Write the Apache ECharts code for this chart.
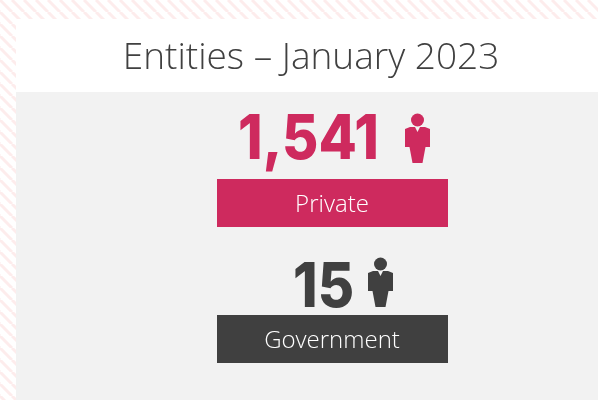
<!DOCTYPE html>
<html>
<head>
<meta charset="utf-8">
<title>Entities</title>
<script src="https://cdn.jsdelivr.net/npm/echarts@6/dist/echarts.min.js"></script>
<style>
html, body { margin: 0; padding: 0; background: #fff; }
#main { width: 598px; height: 400px; }
</style>
</head>
<body>
<div id="main"></div>
<script>
var titleText = 'Entities – January 2023';
var categories = ['Private', 'Government'];
var values = [1541, 15];
var colors = ['#CE2A5E', '#404040'];

// layout of each block (number line, icon, banner)
var bannerTop = [179, 315];
var numberCenter = [308.5, 323.5];
var numberMiddle = [140, 288];
var iconX = [417.5, 380.5];
var iconY = [114, 258];

var dom = document.getElementById('main');
var myChart = echarts.init(dom, null, { renderer: 'canvas' });

// diagonal stripes behind the panel
var tile = document.createElement('canvas');
tile.width = 12;
tile.height = 12;
var ctx = tile.getContext('2d');
ctx.fillStyle = '#ffffff';
ctx.fillRect(0, 0, 12, 12);
ctx.strokeStyle = '#fdecec';
ctx.lineWidth = 3;
for (var k = -12; k <= 12; k += 12) {
	ctx.beginPath();
	ctx.moveTo(k, 0);
	ctx.lineTo(k + 12, 12);
	ctx.stroke();
}

var person = [[-7.5, 13], [-2.5, 13], [0, 18], [2.5, 13], [7.5, 13], [12.5, 15], [12.5, 33], [8, 33], [5, 49], [-5, 49], [-8, 33], [-12.5, 33], [-12.5, 15]];

var elements = [
	{ type: 'rect', shape: { x: 0, y: 0, width: 598, height: 400 }, style: { fill: { image: tile, repeat: 'repeat' } } },
	{ type: 'rect', shape: { x: 16, y: 19, width: 582, height: 73 }, style: { fill: '#ffffff' } },
	{ type: 'rect', shape: { x: 16, y: 92, width: 582, height: 308 }, style: { fill: '#F2F2F2' } },
	{
		type: 'text', x: 311, y: 58,
		style: { text: titleText, fill: '#404040', font: '300 37px "Open Sans"', textAlign: 'center', textVerticalAlign: 'middle' }
	}
];

categories.forEach(function (name, i) {
	elements.push({
		type: 'rect',
		shape: { x: 217, y: bannerTop[i], width: 231, height: 48 },
		style: { fill: colors[i] }
	});
	elements.push({
		type: 'text', x: 332, y: bannerTop[i] + 26,
		style: { text: name, fill: '#ffffff', font: '300 24px "Open Sans"', textAlign: 'center', textVerticalAlign: 'middle' }
	});
	elements.push({
		type: 'text', x: numberCenter[i], y: numberMiddle[i], scaleX: 0.9,
		style: { text: values[i].toLocaleString('en-US'), fill: colors[i], font: '800 62px Inter', textAlign: 'center', textVerticalAlign: 'middle' }
	});
	elements.push({
		type: 'circle', shape: { cx: iconX[i], cy: iconY[i] + 6, r: 6.5 }, style: { fill: colors[i] }
	});
	elements.push({
		type: 'polygon', x: iconX[i], y: iconY[i],
		shape: { points: person },
		style: { fill: colors[i] }
	});
});

var option = {
	animation: false,
	graphic: { elements: elements }
};

if (option && typeof option === 'object') {
	myChart.setOption(option);
}

window.addEventListener('resize', myChart.resize);
</script>
</body>
</html>
